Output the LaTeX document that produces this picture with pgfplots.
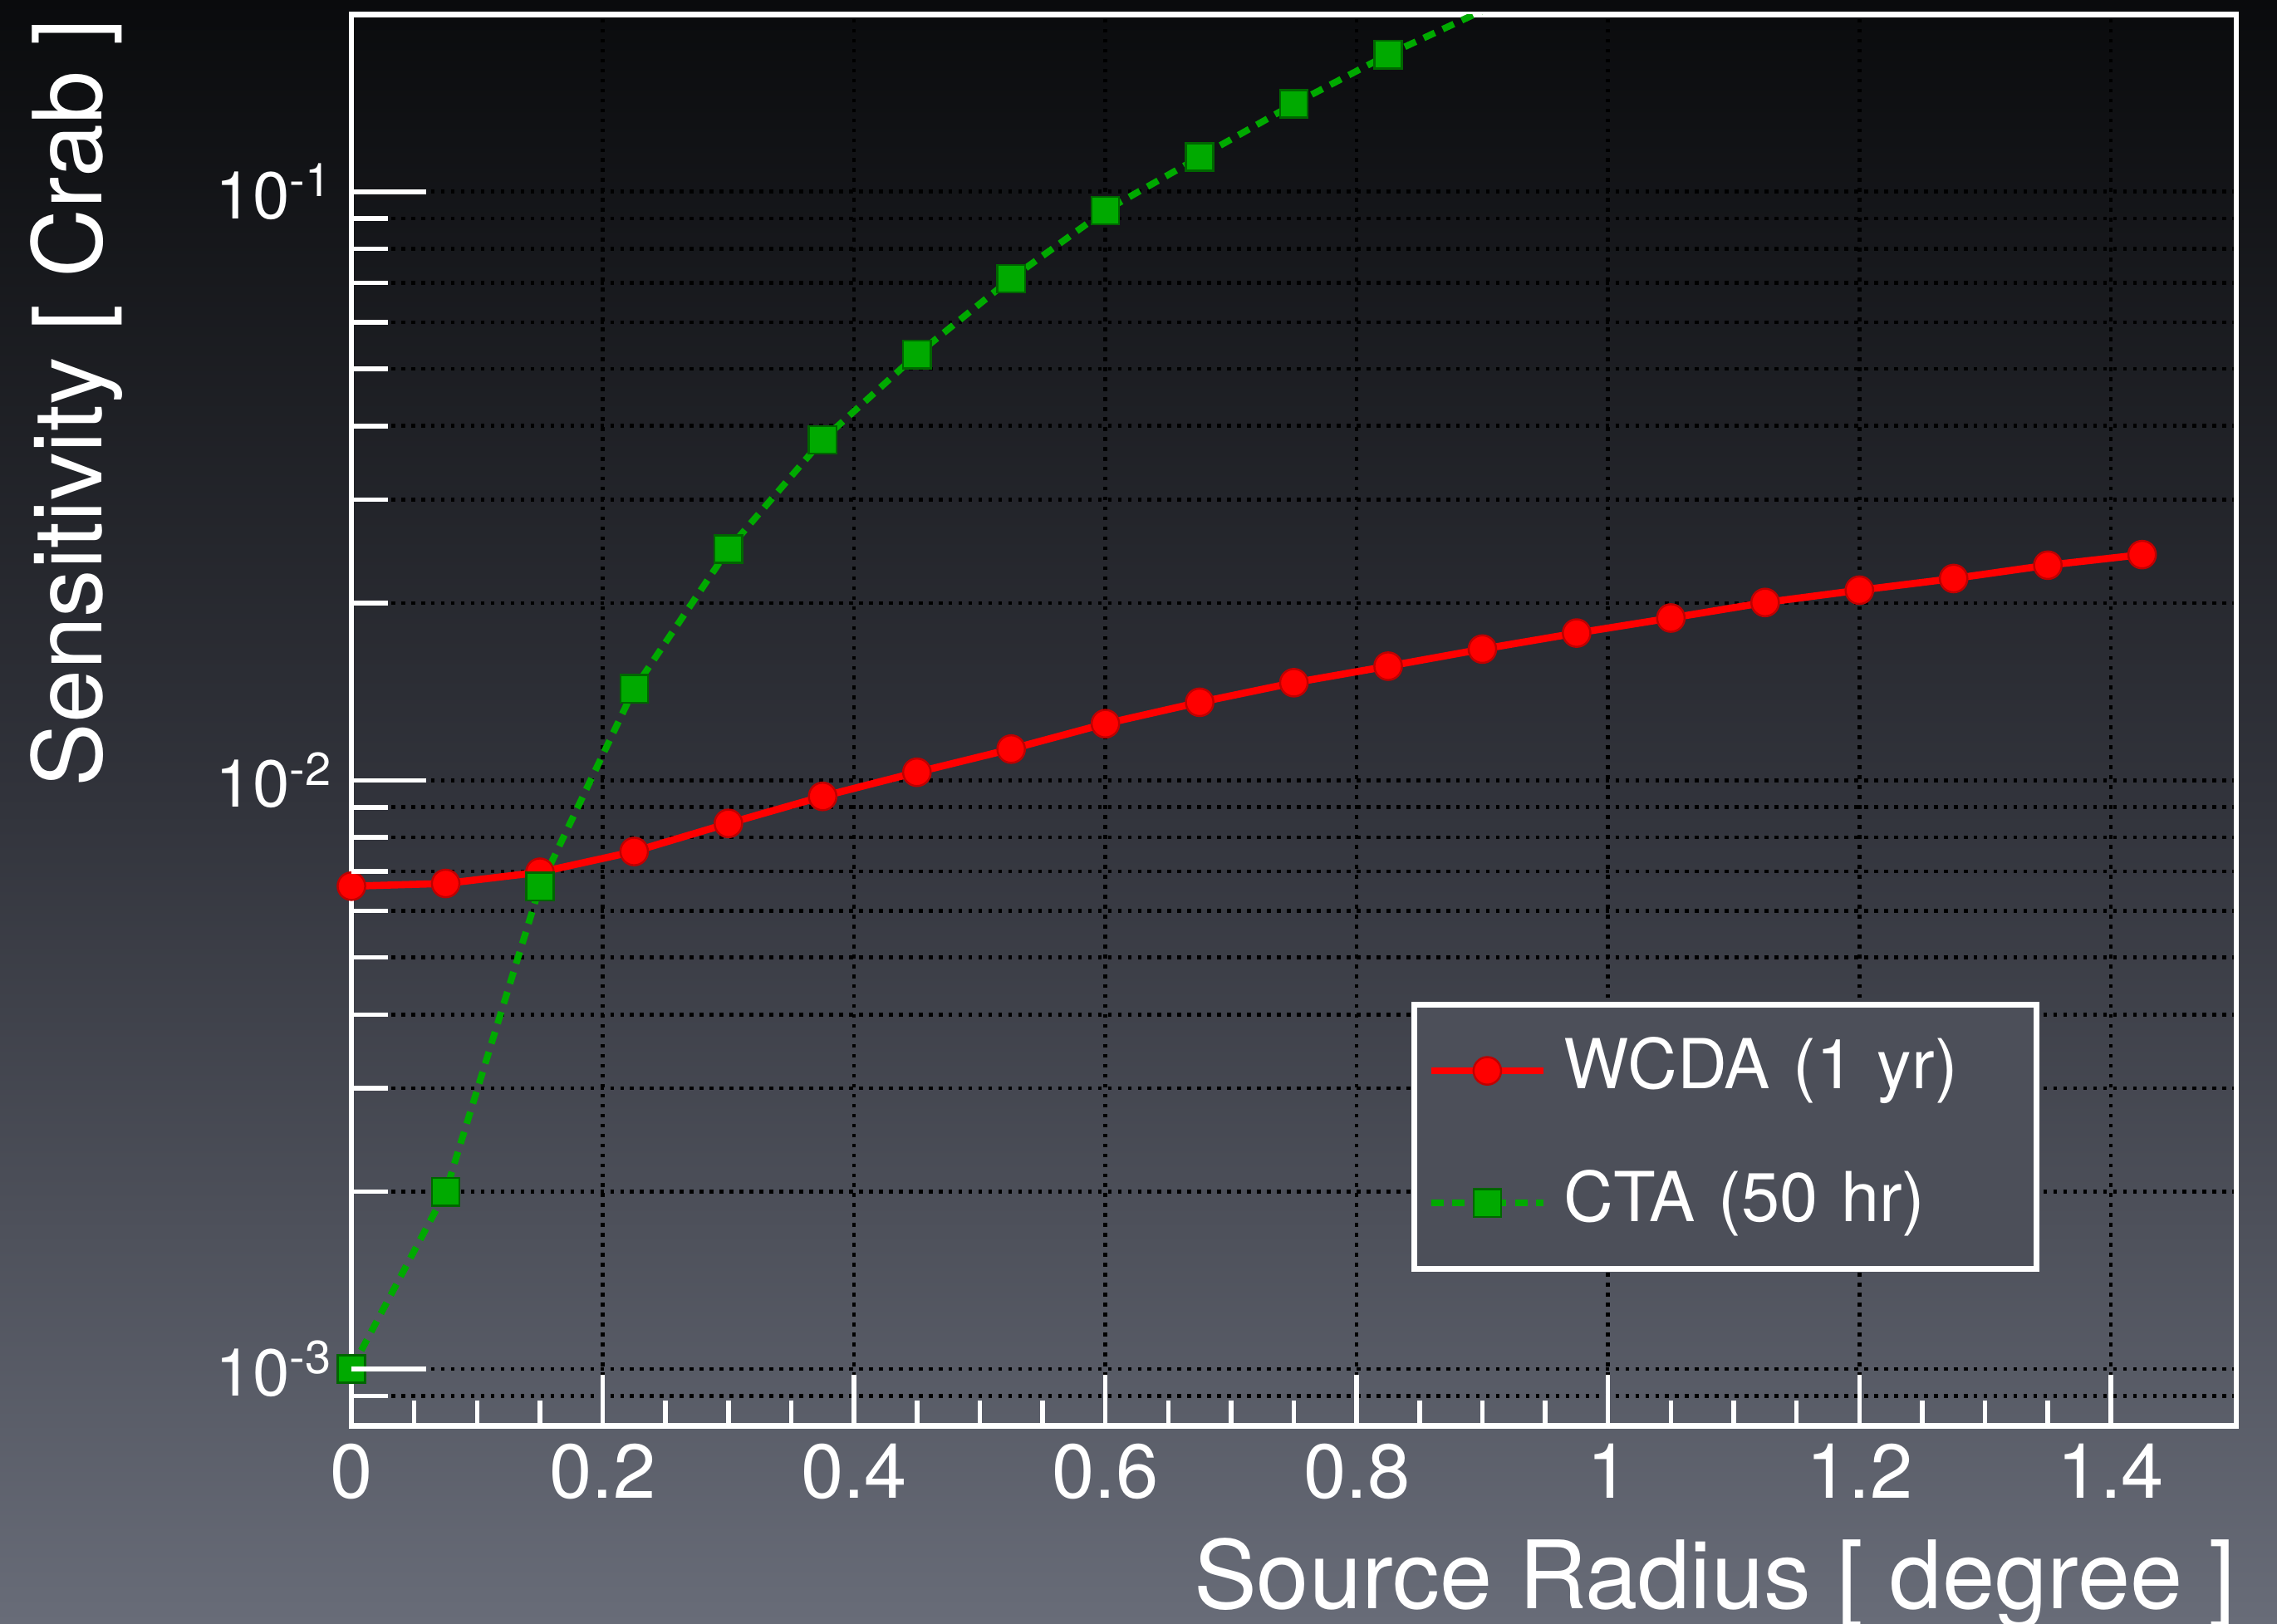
\documentclass[border=0pt]{standalone}
\usepackage{pgfplots}
\pgfplotsset{compat=1.18}
\usepackage{pgfplotstable}
\usepackage{fontspec}
\setmainfont{TeX Gyre Heros}
\definecolor{bgtop}{RGB}{10,11,13}
\definecolor{bgmid}{RGB}{50,52,60}
\definecolor{bgbot}{RGB}{104,108,120}
\definecolor{legfill}{RGB}{76,79,89}
\definecolor{wred}{RGB}{255,0,0}
\definecolor{cgreen}{RGB}{0,170,0}

\pgfplotstableread{
x y
0     0.00661
0.075 0.00668
0.15  0.00698
0.225 0.00757
0.3   0.00845
0.375 0.00939
0.45  0.01032
0.525 0.0113
0.6   0.01248
0.675 0.01357
0.75  0.01465
0.825 0.01563
0.9   0.01671
0.975 0.01779
1.05  0.01887
1.125 0.02005
1.2   0.02104
1.275 0.02202
1.35  0.0232
1.425 0.02418
}\wcda

\pgfplotstableread{
x y
0     0.001
0.075 0.002
0.15  0.0066
0.225 0.0143
0.3   0.0247
0.375 0.0379
0.45  0.0529
0.525 0.0712
0.6   0.0929
0.675 0.1145
0.75  0.141
0.825 0.171
0.9   0.203
}\cta

\begin{document}
\begin{tikzpicture}
\shade[top color=bgtop, bottom color=bgbot, middle color=bgmid] (-2.42,-1.36) rectangle (13.26,9.82);

\begin{axis}[
  at={(0,0)}, anchor=south west,
  scale only axis, width=12.98cm, height=9.72cm,
  xmin=0, xmax=1.5, ymode=log, ymin=8e-4, ymax=0.2,
  axis line style={white, line width=1.1pt},
  xtick={0,0.2,0.4,0.6,0.8,1,1.2,1.4},
  xticklabels={0,0.2,0.4,0.6,0.8,1,1.2,1.4},
  minor x tick num=3,
  ytick={0.001,0.01,0.1},
  yticklabels={10\textsuperscript{-3},10\textsuperscript{-2},10\textsuperscript{-1}},
  minor ytick={0.0008,0.0009,0.002,0.003,0.004,0.005,0.006,0.007,0.008,0.009,0.02,0.03,0.04,0.05,0.06,0.07,0.08,0.09,0.2},
  xtick pos=left, ytick pos=left,
  tick align=inside,
  major tick length=10pt, minor tick length=5pt,
  tick style={white, line width=0.9pt},
  xmajorgrids=true, ymajorgrids=true, yminorgrids=true,
  grid style={black, line width=0.75pt, dash pattern=on 0.75pt off 1.2pt},
  xticklabel style={font=\fontsize{15}{18}\selectfont, text=white},
  yticklabel style={font=\fontsize{13}{16}\selectfont, text=white},
  xlabel={Source Radius [ degree ]},
  ylabel={Sensitivity [ Crab ]},
  xlabel style={at={(rel axis cs:1,0)}, anchor=base east, inner sep=0pt, yshift=-1.26cm, font=\fontsize{18.5}{22}\selectfont, text=white},
  every axis y label/.style={at={(rel axis cs:0,1)}, xshift=-1.72cm, yshift=-0.02cm, rotate=90, anchor=base east, inner sep=0pt, font=\fontsize{18.7}{22}\selectfont, text=white},
  legend image code/.code={\draw[mark repeat=2,mark phase=2,#1] plot coordinates {(0cm,0cm) (0.385cm,0cm) (0.77cm,0cm)};},
  legend cell align=left,
  legend style={at={(rel axis cs:0.5624,0.3004)}, anchor=north west, draw=white, line width=1.1pt, fill=legfill, text=white, font=\fontsize{13.5}{16}\selectfont, inner xsep=0.093cm, inner ysep=0.23cm, row sep=0.46cm, column sep=0.12cm, nodes={inner sep=0pt, text width=3.16cm, text height=0.35cm, text depth=0.1cm, align=left}},
]
\addplot[wred, line width=1.4pt, mark=*, mark size=2.7pt, mark options={solid, fill=wred, draw=red!75!black, line width=0.4pt}] table {\wcda};
\addlegendentry{WCDA (1 yr)}
\addplot[cgreen, line width=1.3pt, dash pattern=on 2.4pt off 1.7pt, mark=square*, mark size=2.7pt, mark indices={1,2,3,4,5,6,7,8,9,10,11,12}, mark options={solid, fill=cgreen, draw=green!40!black, line width=0.4pt}, legend image post style={mark indices={2}}] table {\cta};
\addlegendentry{CTA (50 hr)}
\end{axis}

\begin{axis}[
  at={(0,0)}, anchor=south west,
  scale only axis, width=12.98cm, height=9.72cm,
  xmin=0, xmax=1.5, ymode=log, ymin=8e-4, ymax=0.2,
  axis line style={draw=none},
  xtick=\empty,
  ytick={0.001,0.01,0.1},
  yticklabels={,,},
  minor ytick={0.0008,0.0009,0.002,0.003,0.004,0.005,0.006,0.007,0.008,0.009,0.02,0.03,0.04,0.05,0.06,0.07,0.08,0.09,0.2},
  ytick pos=left, tick align=inside,
  major tick length=14.6pt, minor tick length=7.2pt,
  tick style={white, line width=0.9pt},
]
\end{axis}
\pgfresetboundingbox
\useasboundingbox (-2.42,-1.36) rectangle (13.26,9.82);
\end{tikzpicture}
\end{document}
